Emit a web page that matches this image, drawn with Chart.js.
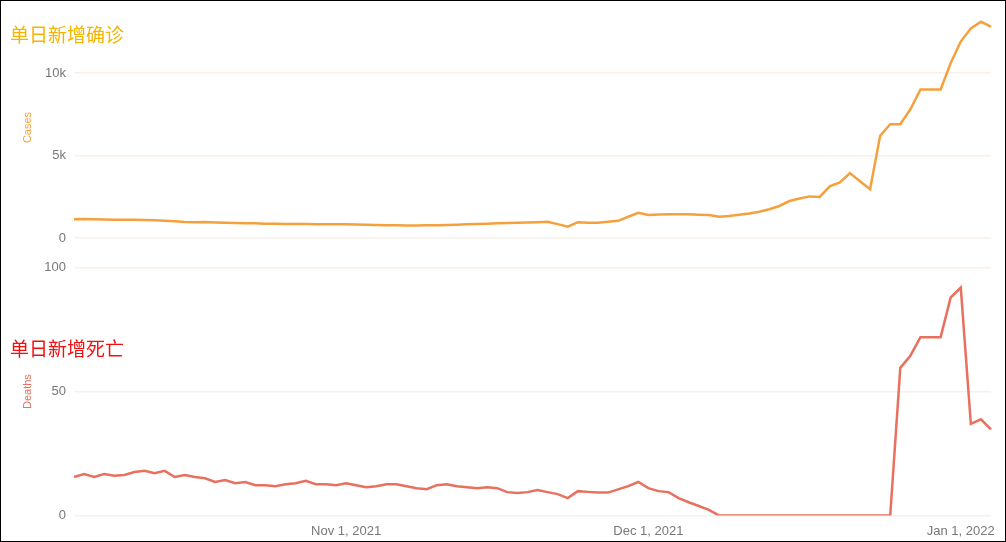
<!DOCTYPE html>
<html lang="zh">
<head>
  <meta charset="UTF-8" />
  <title>单日新增确诊 / 死亡</title>
  <script src="https://cdn.jsdelivr.net/npm/chart.js"></script>
  <style>
    html, body { margin: 0; padding: 0; background: #fff; }
    .frame {
      position: relative;
      width: 1006px; height: 542px;
      box-sizing: border-box;
      border: 1px solid #000;
      overflow: hidden;
      font-family: 'Noto Sans CJK SC', 'Noto Sans', sans-serif;
    }
    .box { position: absolute; left: 0; width: 1004px; }
    #topBox { top: 0; height: 253px; }
    #botBox { top: 251px; height: 287px; }
    .title { position: absolute; left: 9px; font-size: 19px; }
    #t1 { top: 19px; color: #f5b400; }
    #t2 { top: 333px; color: #f01010; }
  </style>
</head>
<body>
  <div class="frame">
    <div class="box" id="topBox"><canvas id="casesChart"></canvas></div>
    <div class="box" id="botBox"><canvas id="deathsChart"></canvas></div>
    <div class="title" id="t1">单日新增确诊</div>
    <div class="title" id="t2">单日新增死亡</div>
  </div>
  <script>
    // one label per day, Oct 5 2021 .. Jan 4 2022
    const months = ['Oct', 'Nov', 'Dec', 'Jan'];
    const startDay = [5, 1, 1, 1];
    const monthLen = [31, 30, 31, 4];
    const years = [2021, 2021, 2021, 2022];
    const dates = [];
    months.forEach((m, i) => {
      for (let d = startDay[i]; d <= monthLen[i]; d++) dates.push(m + ' ' + d + ', ' + years[i]);
    });
    const tickDates = ['Nov 1, 2021', 'Dec 1, 2021', 'Jan 1, 2022'];

    // daily new cases (thousands)
    const casesK = [
      1.14,1.16,1.15,1.13,1.12,1.12,1.11,1.1,1.08,1.06,1.02,0.98,0.97,0.98,0.95,0.93,0.92,0.9,0.9,0.88,0.87,0.86,0.86,0.86,0.85,0.85,0.85,
      0.84,0.83,0.82,0.8,0.79,0.78,0.77,0.77,0.78,0.78,0.8,0.82,0.84,0.86,0.88,0.9,0.92,0.94,0.95,0.97,
      0.99,0.85,0.7,0.97,0.93,0.93,1.0,1.05,1.3,1.54,
      1.4,1.43,1.45,1.45,1.45,1.42,1.4,1.3,
      1.35,1.42,1.5,1.6,1.75,1.95,2.25,2.4,2.53,2.5,3.14,3.37,3.94,3.45,2.97,6.2,6.9,6.9,7.8,9.0,9.0,9.0,10.6,11.9,12.7,13.1,12.8
    ];
    const cases = casesK.map(v => Math.round(v * 1000));

    // daily new deaths
    const deaths = [
      15.5,16.7,15.5,16.7,16,16.3,17.5,18,17,18,15.5,16.3,15.5,15,13.5,14.3,13,13.5,12.2,12.2,11.8,12.6,13,14,12.6,12.6,12.2,13,12.2,11.4,11.8,12.6,
      12.6,11.8,11,10.6,12.2,12.6,11.8,11.4,11,11.4,11,9.4,9,9.4,10.2,9.4,8.6,7,9.8,9.5,9.2,9.2,10.5,11.8,13.5,11,9.8,9.4,7,5.3,3.8,2.2,
      0,0,0,0,0,0,0,0,0,0,0,0,0,0,0,0,0,0,
      59.6,64.5,72,72,72,88,92,37,38.8,34.7
    ];
    const caseTicks = [0, 5000, 10000];

    const tickColor = '#777';
    const gridColor = '#fbefe8';
    const axisW = 73;

    function fixWidth(scale) { scale.width = axisW; }

    function baseOptions(yOpts, showX) {
      return {
        responsive: true,
        maintainAspectRatio: false,
        animation: false,
        layout: { padding: { right: 14, top: showX ? 8 : 3 } },
        plugins: { legend: { display: false }, tooltip: { enabled: false } },
        elements: { point: { radius: 0 }, line: { borderWidth: 2.5, tension: 0 } },
        scales: {
          x: {
            display: showX,
            offset: false,
            grid: { display: false },
            border: { display: false },
            ticks: {
              autoSkip: false, maxRotation: 0, color: tickColor, font: { size: 13 }, padding: 0,
              callback: function (v) {
                const l = this.getLabelForValue(v);
                return tickDates.includes(l) ? l : null;
              }
            }
          },
          y: Object.assign({
            min: 0,
            grid: { color: gridColor, lineWidth: 1.5, drawTicks: false },
            border: { display: false },
            afterFit: fixWidth
          }, yOpts)
        }
      };
    }

    new Chart(document.getElementById('casesChart'), {
      type: 'line',
      data: { labels: dates, datasets: [{ data: cases, borderColor: '#f4a13d' }] },
      options: baseOptions({
        max: 13400,
        afterBuildTicks: s => { s.ticks = caseTicks.map(v => ({ value: v })); },
        ticks: { autoSkip: false, color: tickColor, font: { size: 13 }, padding: 8,
                 callback: v => v === 0 ? '0' : (v / 1000) + 'k' },
        title: { display: true, text: 'Cases', color: '#f4a13d', font: { size: 11 }, padding: { top: 20, bottom: 4 } }
      }, false)
    });

    new Chart(document.getElementById('deathsChart'), {
      type: 'line',
      data: { labels: dates, datasets: [{ data: deaths, borderColor: '#e8705f' }] },
      options: baseOptions({
        max: 100,
        ticks: { stepSize: 50, color: tickColor, font: { size: 13 }, padding: 8 },
        title: { display: true, text: 'Deaths', color: '#e8705f', font: { size: 11 }, padding: { top: 20, bottom: 4 } }
      }, true)
    });
  </script>
</body>
</html>
